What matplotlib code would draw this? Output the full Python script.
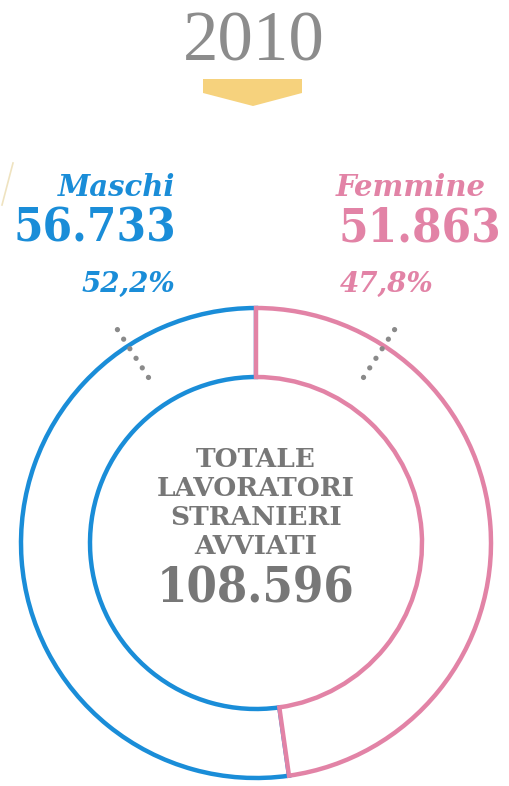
import numpy as np
import matplotlib.pyplot as plt
from matplotlib.patches import Polygon

anno = "2010"
categorie = ["Maschi", "Femmine"]
valori = [56733, 51863]
valori_txt = ["56.733", "51.863"]
perc_txt = ["52,2%", "47,8%"]
totale_txt = "108.596"
centro_txt = "TOTALE\nLAVORATORI\nSTRANIERI\nAVVIATI"

blu = "#1a8dd8"
rosa = "#e283a6"
grigio = "#777777"
giallo = "#f6d27d"

W, H = 510, 786
fig = plt.figure(figsize=(W / 100, H / 100), dpi=100)
fig.patch.set_facecolor("white")

def fx(px):
    return px / W

def fy(py):
    return 1 - py / H

# titolo e freccia
fig.text(fx(254), fy(43), anno, ha="center", va="center", fontsize=51,
         family="Liberation Serif", color="#8c8c8c")
freccia = Polygon([[fx(203), fy(79)], [fx(302), fy(79)], [fx(302), fy(93)],
                   [fx(253), fy(106)], [fx(203), fy(93)]],
                  closed=True, transform=fig.transFigure, color=giallo, lw=0)
fig.patches.append(freccia)

# linea decorativa a sinistra
fig.add_artist(plt.Line2D([fx(13), fx(2)], [fy(163), fy(205)],
                          color="#efe3c0", lw=1.2))

# anello
cx, cy, R = 256, 543, 235
half = 245
ax = fig.add_axes([fx(cx - half), fy(cy + half), 2 * half / W, 2 * half / H])
lim = half / R
colori = [blu, rosa]
spessore = (235 - 166) / 235
ax.pie(valori, startangle=90, counterclock=True, radius=1,
       wedgeprops=dict(width=spessore, facecolor="white", linewidth=3.2),
       colors=colori)
for w, c in zip(ax.patches, colori):
    w.set_edgecolor(c)
    w.set_facecolor("white")
ax.set_xlim(-lim, lim)
ax.set_ylim(-lim, lim)
ax.set_aspect("equal")
ax.axis("off")

# linee puntinate
for segno in [-1, 1]:
    a = np.deg2rad(33)
    r = np.array([0.84, 1.09])
    ax.plot(segno * r * np.sin(a), r * np.cos(a), color="#8a8a8a", lw=3.8,
            linestyle=(0, (0.01, 2.15)), dash_capstyle="round")

# etichette
fig.text(fx(175), fy(188), categorie[0], ha="right", va="center", fontsize=21,
         family="DejaVu Serif", weight="bold", style="italic", color=blu)
fig.text(fx(176), fy(229), valori_txt[0], ha="right", va="center", fontsize=34,
         family="DejaVu Serif", weight="bold", color=blu, stretch="condensed")
fig.text(fx(175), fy(284), perc_txt[0], ha="right", va="center", fontsize=20,
         family="DejaVu Serif", weight="bold", style="italic", color=blu)

fig.text(fx(336), fy(188), categorie[1], ha="left", va="center", fontsize=21,
         family="DejaVu Serif", weight="bold", style="italic", color=rosa)
fig.text(fx(339), fy(229), valori_txt[1], ha="left", va="center", fontsize=34,
         family="DejaVu Serif", weight="bold", color=rosa, stretch="condensed")
fig.text(fx(340), fy(284), perc_txt[1], ha="left", va="center", fontsize=20,
         family="DejaVu Serif", weight="bold", style="italic", color=rosa)

# testo centrale
fig.text(fx(256), fy(503), centro_txt, ha="center", va="center", fontsize=19,
         family="DejaVu Serif", weight="bold", color=grigio, linespacing=1.2)
fig.text(fx(256), fy(589), totale_txt, ha="center", va="center", fontsize=35,
         family="DejaVu Serif", weight="bold", color=grigio, stretch="condensed")

fig.savefig("out.png", dpi=100, facecolor="white")
